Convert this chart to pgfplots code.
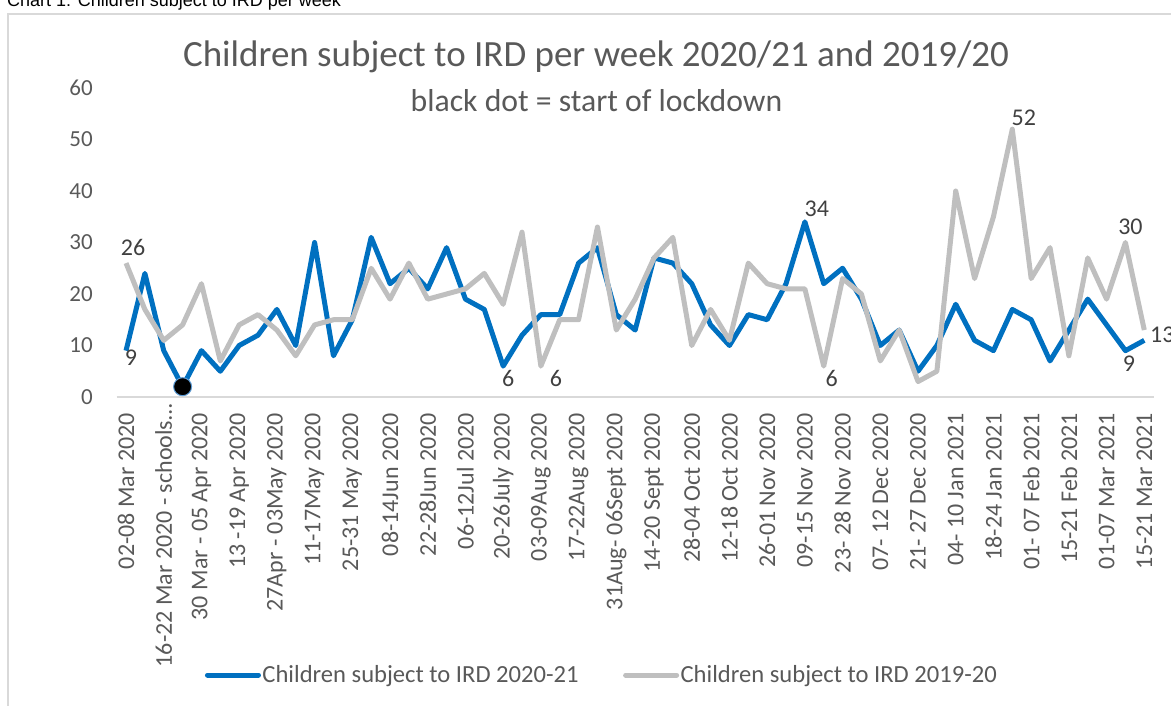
\documentclass[border=0pt]{standalone}
\usepackage{fontspec}
\setmainfont{Carlito}
\newfontfamily\arialf{Liberation Sans}
\usepackage{pgfplots}
\usepackage{pgfplotstable}
\pgfplotsset{compat=1.18}
\definecolor{cblue}{HTML}{0070C0}
\definecolor{cgray}{HTML}{BFBFBF}
\definecolor{ctxt}{HTML}{595959}
\definecolor{clab}{HTML}{404040}
\definecolor{caxis}{HTML}{D9D9D9}
\definecolor{cdot}{HTML}{5B9BD5}

\pgfplotstableread{
i a b
0 9 26
1 24 17
2 9 11
3 2 14
4 9 22
5 5 7
6 10 14
7 12 16
8 17 13
9 10 8
10 30 14
11 8 15
12 15 15
13 31 25
14 22 19
15 25 26
16 21 19
17 29 20
18 19 21
19 17 24
20 6 18
21 12 32
22 16 6
23 16 15
24 26 15
25 29 33
26 16 13
27 13 19
28 27 27
29 26 31
30 22 10
31 14 17
32 10 11
33 16 26
34 15 22
35 22 21
36 34 21
37 22 6
38 25 23
39 19 20
40 10 7
41 13 13
42 5 3
43 10 5
44 18 40
45 11 23
46 9 35
47 17 52
48 15 23
49 7 29
50 13 8
51 19 27
52 14 19
53 9 30
54 11 13
}\ird

\begin{document}
\begin{tikzpicture}[x=1pt,y=1pt]
\useasboundingbox (0,0) rectangle (1171,706);
\draw[caxis, line width=1.2pt] (8,-20) -- (8,692) -- (1200,692);
\node[anchor=base west, inner sep=0pt, font=\arialf\fontsize{18}{20}\selectfont] at (7,699) {Chart 1: Children subject to IRD per week};
\node[anchor=base, inner sep=0pt, text=ctxt, font=\fontsize{37}{40}\selectfont] at (596,639) {Children subject to IRD per week 2020/21 and 2019/20};
\node[anchor=base, inner sep=0pt, text=ctxt, font=\fontsize{31.7}{34}\selectfont] at (596.5,594.3) {black dot = start of lockdown};
\begin{axis}[
  at={(116.6pt,309pt)}, anchor=south west,
  scale only axis, width=1037.2pt, height=309pt,
  xmin=-0.5, xmax=54.5, ymin=0, ymax=60,
  axis x line*=bottom, axis y line*=left,
  y axis line style={draw=none},
  x axis line style={draw=caxis, line width=1.5pt, -},
  major tick length=0pt,
  ytick={0,10,...,60},
  xtick={0,2,...,54},
  xticklabels={02-08 Mar 2020,16-22 Mar 2020 - schools…\kern-9pt,30 Mar - 05 Apr 2020,13 -19 Apr 2020,27Apr - 03May 2020,11-17May 2020,25-31 May 2020,08-14Jun 2020,22-28Jun 2020,06-12Jul 2020,20-26July 2020,03-09Aug 2020,17-22Aug 2020,31Aug- 06Sept 2020,14-20 Sept 2020,28-04 Oct 2020,12-18 Oct 2020,26-01 Nov 2020,09-15 Nov 2020,23- 28 Nov 2020,07- 12 Dec 2020,21- 27 Dec 2020,04- 10 Jan 2021,18-24 Jan 2021,01- 07 Feb 2021,15-21 Feb 2021,01-07 Mar 2021,15-21 Mar 2021},
  x tick label style={rotate=90, anchor=east, inner sep=0pt, text=ctxt, font=\fontsize{24}{24}\selectfont},
  xticklabel shift=16pt,
  y tick label style={anchor=east, inner sep=0pt, text=ctxt, font=\fontsize{23}{23}\selectfont},
  yticklabel shift=23.6pt,
  /pgf/number format/assume math mode=true,
  clip=false,
  legend columns=2,
  legend style={at={(axis description cs:0.0852,-0.8997)}, anchor=west, draw=none, fill=none, inner sep=0pt, outer sep=0pt,
    font=\fontsize{24.6}{25}\selectfont, text=ctxt,
    nodes={inner sep=1.5pt, anchor=west},
    /tikz/every even column/.append style={column sep=43pt}},
  legend image code/.code={\draw[#1, line width=5pt, line cap=round] (2.5pt,0pt) -- (53.5pt,0pt);},
]
\addplot[cblue, line width=5pt, line join=round] table[x=i, y=a] {\ird};
\addlegendentry{Children subject to IRD 2020-21}
\addplot[cgray, line width=5pt, line join=round] table[x=i, y=b] {\ird};
\addlegendentry{Children subject to IRD 2019-20}
\addplot[only marks, mark=*, mark size=9pt, mark options={fill=black, draw=cdot, line width=1pt}, forget plot] coordinates {(3,2)};
\begin{scope}[every node/.style={inner sep=0pt, text=clab, font=\fontsize{24}{24}\selectfont, anchor=center}]
\node[xshift=5pt, yshift=-7.5pt] at (axis cs:0,9) {9};
\node[xshift=7pt, yshift=15.5pt] at (axis cs:0,26) {26};
\node[xshift=5pt, yshift=-12pt] at (axis cs:20,6) {6};
\node[xshift=15pt, yshift=-12pt] at (axis cs:22,6) {6};
\node[xshift=12pt, yshift=12.7pt] at (axis cs:36,34) {34};
\node[xshift=8pt, yshift=-12pt] at (axis cs:37,6) {6};
\node[xshift=11.6pt, yshift=11.3pt] at (axis cs:47,52) {52};
\node[xshift=5pt, yshift=16pt] at (axis cs:53,30) {30};
\node[xshift=3.5pt, yshift=-13pt] at (axis cs:53,9) {9};
\node[xshift=18pt, yshift=-5pt] at (axis cs:54,13) {13};
\end{scope}
\end{axis}
\end{tikzpicture}
\end{document}
